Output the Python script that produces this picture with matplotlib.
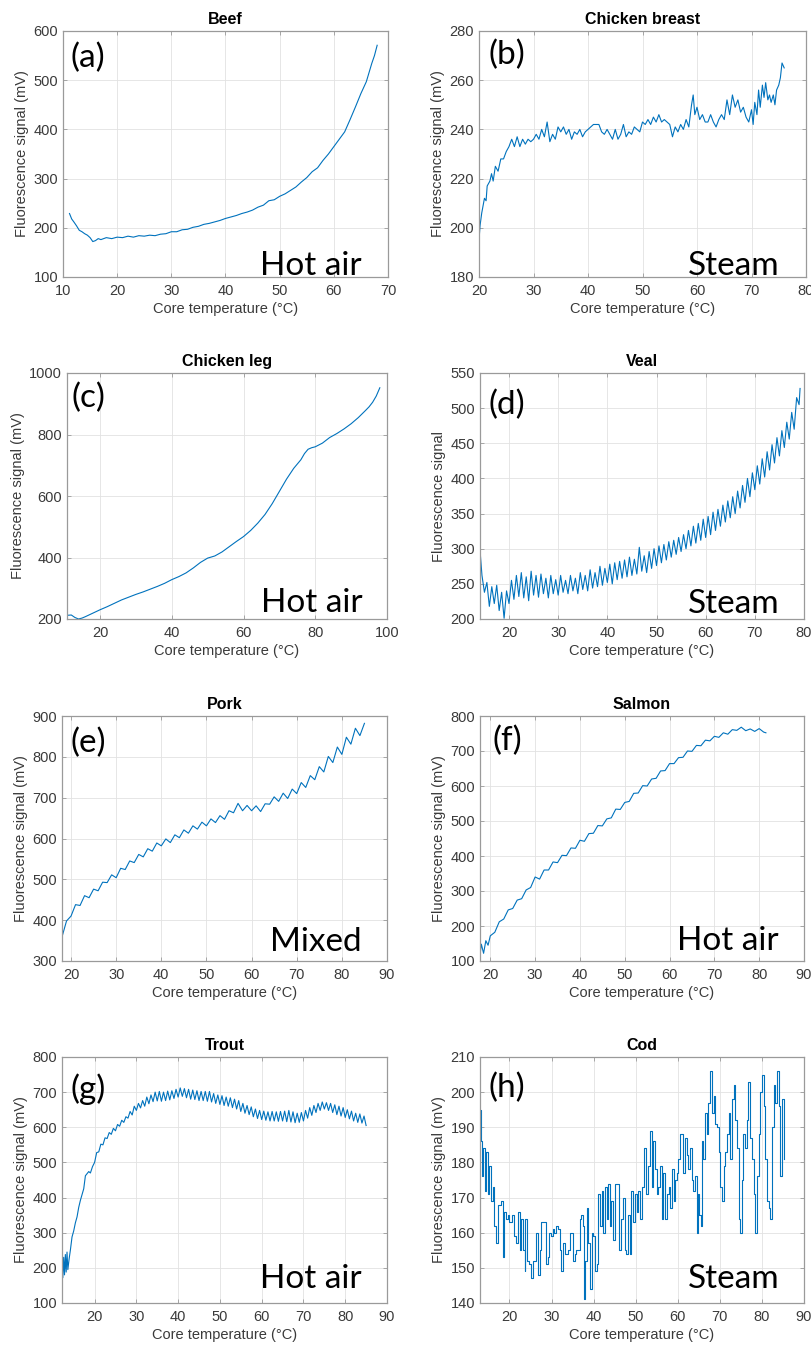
import matplotlib.pyplot as plt

plt.rcParams['font.family'] = ['Liberation Sans', 'DejaVu Sans']

# ---- data ----
beef_t = [11.2, 11.6, 12.0, 12.5, 13.0, 13.5, 14.0, 14.5, 15.0, 15.5, 16.0, 16.5, 17.0,
          18, 19, 20, 21, 22, 23, 24, 25, 26, 27, 28, 29, 30, 31, 32, 33, 34, 35, 36, 37,
          38, 39, 40, 41, 42, 43, 44, 45, 46, 47, 48, 49, 50, 51, 52, 53, 54, 55, 56, 57,
          58, 59, 60, 61, 62, 63, 64, 65, 66, 67, 67.5, 68.0]
beef_y = [229, 218, 212, 204, 195, 192, 188, 185, 180, 172, 174, 178, 176,
          180, 178, 181, 180, 183, 181, 184, 183, 185, 184, 187, 188, 192, 192, 196, 197, 201, 203, 207, 209,
          212, 215, 219, 222, 225, 229, 232, 236, 242, 246, 255, 257, 264, 269, 276, 283, 293, 302, 314, 322,
          337, 350, 365, 380, 395, 420, 446, 473, 497, 534, 550, 571]

breast_t = [20.0, 20.2, 20.5, 21.0, 21.3, 21.5, 22.0, 22.3, 22.6, 23.0,
            23.5, 24.0, 24.5, 25.0, 25.5, 26.0, 26.5, 27.0, 27.5, 28.0,
            28.5, 29.0, 29.5, 30.0, 30.5, 31.0, 31.5, 32.0, 32.5, 33.0,
            33.5, 34.0, 34.5, 35.0, 35.5, 36.0, 36.5, 37.0, 37.5, 38.0,
            38.5, 39.0, 39.5, 40.0, 40.5, 41.0, 42.0, 42.5, 43.0, 43.5,
            44.0, 44.5, 45.0, 45.5, 46.0, 46.5, 47.0, 47.5, 48.0, 48.5,
            49.0, 49.5, 50.0, 50.5, 51.0, 51.5, 52.0, 52.5, 53.0, 53.5,
            54.0, 54.5, 55.0, 55.5, 56.0, 56.5, 57.0, 57.5, 58.0, 58.5,
            59.0, 59.3, 59.6, 60.0, 60.5, 61.0, 61.5, 62.0, 62.5, 63.0,
            63.5, 64.0, 64.5, 65.0, 65.5, 66.0, 66.5, 67.0, 67.5, 68.0,
            68.5, 69.0, 69.5, 70.0, 70.3, 70.6, 71.0, 71.3, 71.6, 72.0,
            72.3, 72.6, 73.0, 73.3, 73.6, 74.0, 74.3, 74.6, 75.0, 75.3,
            75.6, 76.0]
breast_y = [195, 201, 206, 212, 211, 217, 219, 222, 219, 225,
            223, 228, 228, 231, 233, 236, 233, 237, 233, 236,
            234, 236, 235, 236, 238, 236, 240, 237, 243, 235,
            238, 236, 241, 239, 241, 238, 240, 236, 239, 238,
            240, 237, 239, 240, 241, 242, 242, 239, 238, 240,
            238, 236, 240, 236, 238, 242, 237, 239, 238, 241,
            240, 239, 243, 242, 244, 242, 245, 243, 246, 243,
            244, 243, 242, 237, 241, 239, 242, 240, 244, 241,
            250, 254, 246, 249, 244, 246, 243, 243, 246, 243,
            241, 244, 246, 244, 252, 246, 254, 249, 252, 247,
            249, 245, 243, 248, 242, 251, 246, 256, 249, 258,
            253, 259, 252, 254, 251, 254, 250, 256, 258, 261,
            267, 265]

leg_t = [10.8, 12, 13, 14, 15, 16,
         18, 20, 22, 24, 26, 28, 30, 32, 34, 36, 38, 40, 42, 44, 46,
         48, 50, 52, 54, 56, 58, 60, 62, 64, 66, 68, 70, 72, 74, 76,
         77, 78, 79, 80, 82, 84, 86, 88, 90, 92, 94, 95, 96, 97, 98]
leg_y = [212, 213, 205, 200, 203, 208,
         219, 230, 240, 251, 262, 271, 280, 288, 297, 306, 316, 328, 338, 350, 366,
         384, 398, 405, 418, 435, 452, 468, 488, 512, 540, 575, 615, 655, 690, 718,
         738, 752, 757, 760, 772, 790, 803, 818, 835, 855, 878, 890, 905, 925, 952]

veal_t = [14.2, 14.5, 15.0, 15.5, 16.0, 16.5, 17.0, 17.5, 18.0, 18.5,
          19.0, 19.5, 20.0, 20.5, 21.0, 21.5, 22.0, 22.5, 23.0, 23.5,
          24.0, 24.5, 25.0, 25.5, 26.0, 26.5, 27.0, 27.5, 28.0, 28.5,
          29.0, 29.5, 30.0, 30.5, 31.0, 31.5, 32.0, 32.5, 33.0, 33.5,
          34.0, 34.5, 35.0, 35.5, 36.0, 36.5, 37.0, 37.5, 38.0, 38.5,
          39.0, 39.5, 40.0, 40.5, 41.0, 41.5, 42.0, 42.5, 43.0, 43.5,
          44.0, 44.5, 45.0, 45.5, 46.0, 46.5, 47.0, 47.5, 48.0, 48.5,
          49.0, 49.5, 50.0, 50.5, 51.0, 51.5, 52.0, 52.5, 53.0, 53.5,
          54.0, 54.5, 55.0, 55.5, 56.0, 56.5, 57.0, 57.5, 58.0, 58.5,
          59.0, 59.5, 60.0, 60.5, 61.0, 61.5, 62.0, 62.5, 63.0, 63.5,
          64.0, 64.5, 65.0, 65.5, 66.0, 66.5, 67.0, 67.5, 68.0, 68.5,
          69.0, 69.5, 70.0, 70.5, 71.0, 71.5, 72.0, 72.5, 73.0, 73.5,
          74.0, 74.5, 75.0, 75.5, 76.0, 76.5, 77.0, 77.5, 78.0, 78.5,
          79.0, 79.2]
veal_y = [289, 262, 238, 252, 218, 246, 222, 248, 212, 238,
          201, 240, 222, 255, 228, 262, 232, 266, 230, 260,
          226, 268, 234, 262, 231, 264, 236, 258, 230, 262,
          236, 256, 234, 262, 238, 255, 236, 262, 240, 258,
          236, 266, 242, 262, 240, 270, 244, 266, 246, 275,
          248, 272, 252, 278, 250, 280, 256, 282, 258, 284,
          260, 288, 262, 285, 264, 302, 268, 290, 266, 296,
          272, 300, 276, 304, 280, 306, 284, 310, 288, 312,
          292, 316, 296, 320, 300, 326, 304, 332, 308, 336,
          312, 342, 316, 346, 320, 352, 326, 356, 332, 362,
          338, 368, 344, 374, 350, 382, 358, 390, 366, 400,
          374, 408, 384, 418, 392, 428, 402, 438, 412, 448,
          422, 458, 432, 468, 444, 480, 456, 494, 470, 515,
          505, 528]

pork_t = [18, 19, 20, 21, 22, 23, 24, 25, 26, 27,
          28, 29, 30, 31, 32, 33, 34, 35, 36, 37,
          38, 39, 40, 41, 42, 43, 44, 45, 46, 47,
          48, 49, 50, 51, 52, 53, 54, 55, 56, 57,
          58, 59, 60, 61, 62, 63, 64, 65, 66, 67,
          68, 69, 70, 71, 72, 73, 74, 75, 76, 77,
          78, 79, 80, 81, 82, 83, 84, 85]
pork_y = [359, 398, 410, 438, 436, 460, 455, 476, 472, 493,
          492, 511, 504, 527, 524, 545, 541, 561, 555, 575,
          569, 589, 582, 599, 590, 609, 602, 621, 613, 631,
          623, 640, 631, 648, 639, 656, 647, 668, 663, 686,
          668, 681, 668, 680, 666, 685, 684, 702, 691, 711,
          698, 721, 710, 737, 725, 754, 744, 776, 763, 801,
          786, 824, 806, 848, 831, 870, 852, 882]

salmon_t = [17.7, 18.0, 18.5, 19.0, 19.5, 20.0,
            21, 22, 23, 24, 25, 26, 27, 28, 29, 30,
            31, 32, 33, 34, 35, 36, 37, 38, 39, 40,
            41, 42, 43, 44, 45, 46, 47, 48, 49, 50,
            51, 52, 53, 54, 55, 56, 57, 58, 59, 60,
            61, 62, 63, 64, 65, 66, 67, 68, 69, 70,
            71, 72, 73, 74, 75, 76, 77, 78, 79, 80,
            81, 81.5]
salmon_y = [118, 148, 122, 158, 145, 172,
            182, 212, 220, 246, 250, 274, 278, 303, 310, 340,
            334, 360, 360, 383, 381, 402, 401, 423, 422, 445,
            442, 464, 465, 487, 486, 506, 509, 534, 533, 553,
            556, 579, 580, 601, 600, 620, 622, 643, 644, 664,
            664, 681, 682, 700, 699, 716, 715, 731, 729, 742,
            739, 752, 748, 761, 759, 768, 758, 763, 756, 764,
            754, 752]

trout_t = [12.2, 12.4, 12.6, 12.8, 13.0, 13.2, 13.4, 13.6, 13.9, 14.2,
           14.6, 15.0, 15.4, 15.8, 16.2, 16.6, 17.0, 17.4, 17.8, 18.2,
           18.6, 19.0, 19.5,
           20.0, 20.5, 21.0, 21.5, 22.0, 22.5, 23.0, 23.5, 24.0, 24.5,
           25.0, 25.5, 26.0, 26.5, 27.0, 27.5, 28.0, 28.5, 29.0, 29.5,
           30.0, 30.5, 31.0, 31.5, 32.0, 32.5, 33.0, 33.5, 34.0, 34.5,
           35.0, 35.5, 36.0, 36.5, 37.0, 37.5, 38.0, 38.5, 39.0, 39.5,
           40.0, 40.5, 41.0, 41.5, 42.0, 42.5, 43.0, 43.5, 44.0, 44.5,
           45.0, 45.5, 46.0, 46.5, 47.0, 47.5, 48.0, 48.5, 49.0, 49.5,
           50.0, 50.5, 51.0, 51.5, 52.0, 52.5, 53.0, 53.5, 54.0, 54.5,
           55.0, 55.5, 56.0, 56.5, 57.0, 57.5, 58.0, 58.5, 59.0, 59.5,
           60.0, 60.5, 61.0, 61.5, 62.0, 62.5, 63.0, 63.5, 64.0, 64.5,
           65.0, 65.5, 66.0, 66.5, 67.0, 67.5, 68.0, 68.5, 69.0, 69.5,
           70.0, 70.5, 71.0, 71.5, 72.0, 72.5, 73.0, 73.5, 74.0, 74.5,
           75.0, 75.5, 76.0, 76.5, 77.0, 77.5, 78.0, 78.5, 79.0, 79.5,
           80.0, 80.5, 81.0, 81.5, 82.0, 82.5, 83.0, 83.5, 84.0, 84.5,
           85.0]
trout_y = [240, 172, 230, 180, 238, 188, 245, 195, 225, 250,
           288, 305, 328, 345, 372, 392, 408, 425, 462, 468,
           474, 470, 488,
           500, 528, 530, 552, 550, 570, 568, 585, 580, 597,
           590, 608, 603, 620, 614, 630, 626, 645, 635, 660,
           648, 668, 655, 676, 660, 686, 667, 692, 673, 700,
           675, 702, 674, 700, 676, 703, 678, 704, 682, 708,
           686, 712, 688, 710, 684, 708, 680, 706, 679, 704,
           676, 702, 676, 702, 674, 702, 672, 696, 668, 692,
           665, 690, 662, 686, 660, 684, 656, 680, 652, 676,
           645, 668, 640, 662, 636, 658, 630, 652, 625, 648,
           622, 646, 620, 644, 618, 645, 618, 644, 617, 645,
           618, 646, 616, 648, 615, 644, 613, 640, 614, 642,
           618, 648, 626, 656, 634, 662, 642, 668, 648, 672,
           652, 670, 648, 668, 642, 664, 636, 660, 632, 656,
           628, 650, 624, 646, 618, 640, 614, 638, 612, 632,
           605]

cod_t = [13.0, 13.2, 13.5, 13.8, 14.1, 14.4, 14.8, 15.2, 15.6, 16.0,
         16.4, 16.8, 17.2, 17.6, 18.0, 18.4, 18.8, 19.2, 19.6, 20.0,
         20.6, 21.0, 21.6, 22.0, 22.4, 22.8, 23.2, 23.6, 23.8, 24.1,
         24.6, 25.2, 25.6, 26.0, 26.4, 26.8, 27.2, 27.6, 28.4, 28.7,
         29.1, 29.5, 29.9, 30.3, 30.7, 31.1, 31.5, 31.9, 32.3, 32.7,
         33.1, 33.5, 33.9, 34.3, 34.7, 35.1, 35.5, 35.9, 36.3, 36.7,
         37.1, 37.5, 37.7, 38.0, 38.4, 38.7, 39.1, 39.5, 39.9, 40.3,
         40.7, 41.1, 41.5, 41.9, 42.3, 42.7, 43.1, 43.5, 43.8, 44.2,
         44.6, 45.0, 45.6, 46.1, 46.6, 47.0, 47.4, 47.8, 48.2, 48.6,
         49.0, 49.4, 49.8, 50.2, 50.6, 51.0, 51.4, 52.0, 52.4, 52.9,
         53.4, 53.8, 54.2, 54.6, 55.0, 55.4, 55.8, 56.2, 56.6, 57.0,
         57.4, 57.8, 58.2, 58.6, 59.0, 59.4, 59.8, 60.1, 60.5, 60.9,
         61.3, 61.7, 62.1, 62.5, 62.9, 63.3, 63.7, 64.1, 64.5, 64.8,
         65.1, 65.5, 65.8, 66.1, 66.5, 66.9, 67.3, 67.7, 68.1, 68.5,
         68.9, 69.3, 69.7, 70.1, 70.5, 70.9, 71.3, 71.7, 72.1, 72.5,
         72.9, 73.3, 73.7, 74.1, 74.5, 74.9, 75.3, 75.6, 76.0, 76.4,
         76.8, 77.2, 77.6, 78.0, 78.4, 78.8, 79.2, 79.6, 80.0, 80.4,
         80.8, 81.2, 81.6, 82.0, 82.4, 82.8, 83.2, 83.6, 84.0, 84.4,
         84.8, 85.2]
cod_y = [195, 186, 176, 184, 172, 183, 171, 179, 169, 173,
         162, 157, 168, 168, 169, 153, 166, 164, 165, 163,
         165, 159, 157, 166, 155, 164, 155, 149, 164, 152,
         151, 147, 152, 152, 160, 148, 155, 163, 163, 151,
         153, 160, 159, 161, 160, 162, 161, 155, 149, 157,
         154, 154, 155, 160, 160, 152, 154, 155, 155, 164,
         165, 162, 141, 152, 167, 157, 144, 160, 159, 149,
         151, 171, 162, 172, 160, 173, 164, 174, 162, 169,
         158, 174, 174, 155, 164, 170, 155, 154, 165, 154,
         172, 163, 171, 166, 172, 164, 173, 184, 171, 179,
         189, 173, 186, 178, 171, 173, 179, 164, 177, 164,
         171, 173, 167, 178, 169, 175, 177, 181, 188, 188,
         177, 187, 182, 178, 184, 175, 172, 176, 160, 171,
         165, 162, 186, 181, 194, 188, 197, 206, 194, 199,
         191, 190, 183, 173, 169, 179, 183, 188, 194, 181,
         198, 202, 192, 184, 164, 160, 175, 188, 184, 192,
         203, 187, 181, 171, 160, 176, 188, 200, 205, 196,
         181, 169, 167, 164, 190, 202, 197, 206, 196, 176,
         198, 181]

titles = ['Beef', 'Chicken breast', 'Chicken leg', 'Veal',
          'Pork', 'Salmon', 'Trout', 'Cod']
letters = ['(a)', '(b)', '(c)', '(d)', '(e)', '(f)', '(g)', '(h)']
methods = ['Hot air', 'Steam', 'Hot air', 'Steam',
           'Mixed', 'Hot air', 'Hot air', 'Steam']
ylabels = ['Fluorescence signal (mV)'] * 3 + ['Fluorescence signal'] + \
          ['Fluorescence signal (mV)'] * 4
series = [(beef_t, beef_y), (breast_t, breast_y), (leg_t, leg_y), (veal_t, veal_y),
          (pork_t, pork_y), (salmon_t, salmon_y), (trout_t, trout_y), (cod_t, cod_y)]
xlims = [(10, 70), (20, 80), (10.8, 100), (14.1, 80),
         (18, 90), (17.7, 90), (12.2, 90), (13, 90)]
xticks = [range(10, 71, 10), range(20, 81, 10), range(20, 101, 20), range(20, 81, 10),
          range(20, 91, 10), range(20, 91, 10), range(20, 91, 10), range(20, 91, 10)]
ylims = [(100, 600), (180, 280), (200, 1000), (200, 550),
         (300, 900), (100, 800), (100, 800), (140, 210)]
yticks = [range(100, 601, 100), range(180, 281, 20), range(200, 1001, 200),
          range(200, 551, 50), range(300, 901, 100), range(100, 801, 100),
          range(100, 801, 100), range(140, 211, 10)]

# ---- layout (pixels) ----
W, H = 812, 1347
rects = [(63, 31, 388, 277), (479, 31, 806, 277),
         (67, 373, 387, 619), (480, 373, 804, 619),
         (62, 716, 387, 961), (480, 716, 804, 961),
         (62, 1057, 387, 1303), (480, 1057, 804, 1303)]
letter_off = [(8, -12), (10, -9), (5, -10), (9, -17),
              (8, -12), (12, -10), (9, -16), (9, -16)]
method_off = [(-26, 2), (-26, 2), (-24, 7), (-24, 6),
              (-25, 10), (-25, 11), (-25, 15), (-24, 15)]

frame = '#9a9a9a'
txt = '#3a3a3a'
blue = '#0072BD'

fig = plt.figure(figsize=(W / 100, H / 100), dpi=100)

for i in range(8):
    l, t, r, b = rects[i]
    ax = fig.add_axes([l / W, 1 - b / H, (r - l) / W, (b - t) / H])
    x, y = series[i]
    if titles[i] == 'Cod':
        ax.plot(x, y, color=blue, lw=0.8, drawstyle='steps-post')
    else:
        ax.plot(x, y, color=blue, lw=0.8)

    ax.set_xlim(*xlims[i])
    ax.set_ylim(*ylims[i])
    ax.set_xticks(list(xticks[i]))
    ax.set_yticks(list(yticks[i]))
    ax.grid(True, color='#e2e2e2', lw=0.6)
    ax.set_axisbelow(True)
    for s in ax.spines.values():
        s.set_color(frame)
        s.set_linewidth(0.9)
    ax.tick_params(direction='in', length=3, width=0.6, color=frame,
                   top=True, right=True, labelsize=10.5, labelcolor=txt)
    ax.tick_params(axis='x', pad=5)
    ax.tick_params(axis='y', pad=3.5)

    ax.set_title(titles[i], fontsize=11.5, fontweight='bold', pad=5)
    ax.set_xlabel('Core temperature (°C)', fontsize=10.5, color=txt, labelpad=3)
    ax.set_ylabel(ylabels[i], fontsize=10.5, color=txt, labelpad=3)

    ax.annotate(letters[i], xy=(0, 1), xycoords='axes fraction',
                xytext=letter_off[i], textcoords='offset pixels',
                ha='left', va='top', fontsize=24, family=['Lato', 'DejaVu Sans'])
    ax.annotate(methods[i], xy=(1, 0), xycoords='axes fraction',
                xytext=method_off[i], textcoords='offset pixels',
                ha='right', va='baseline', fontsize=24, family=['Lato', 'DejaVu Sans'])

fig.savefig('out.png', dpi=100)
